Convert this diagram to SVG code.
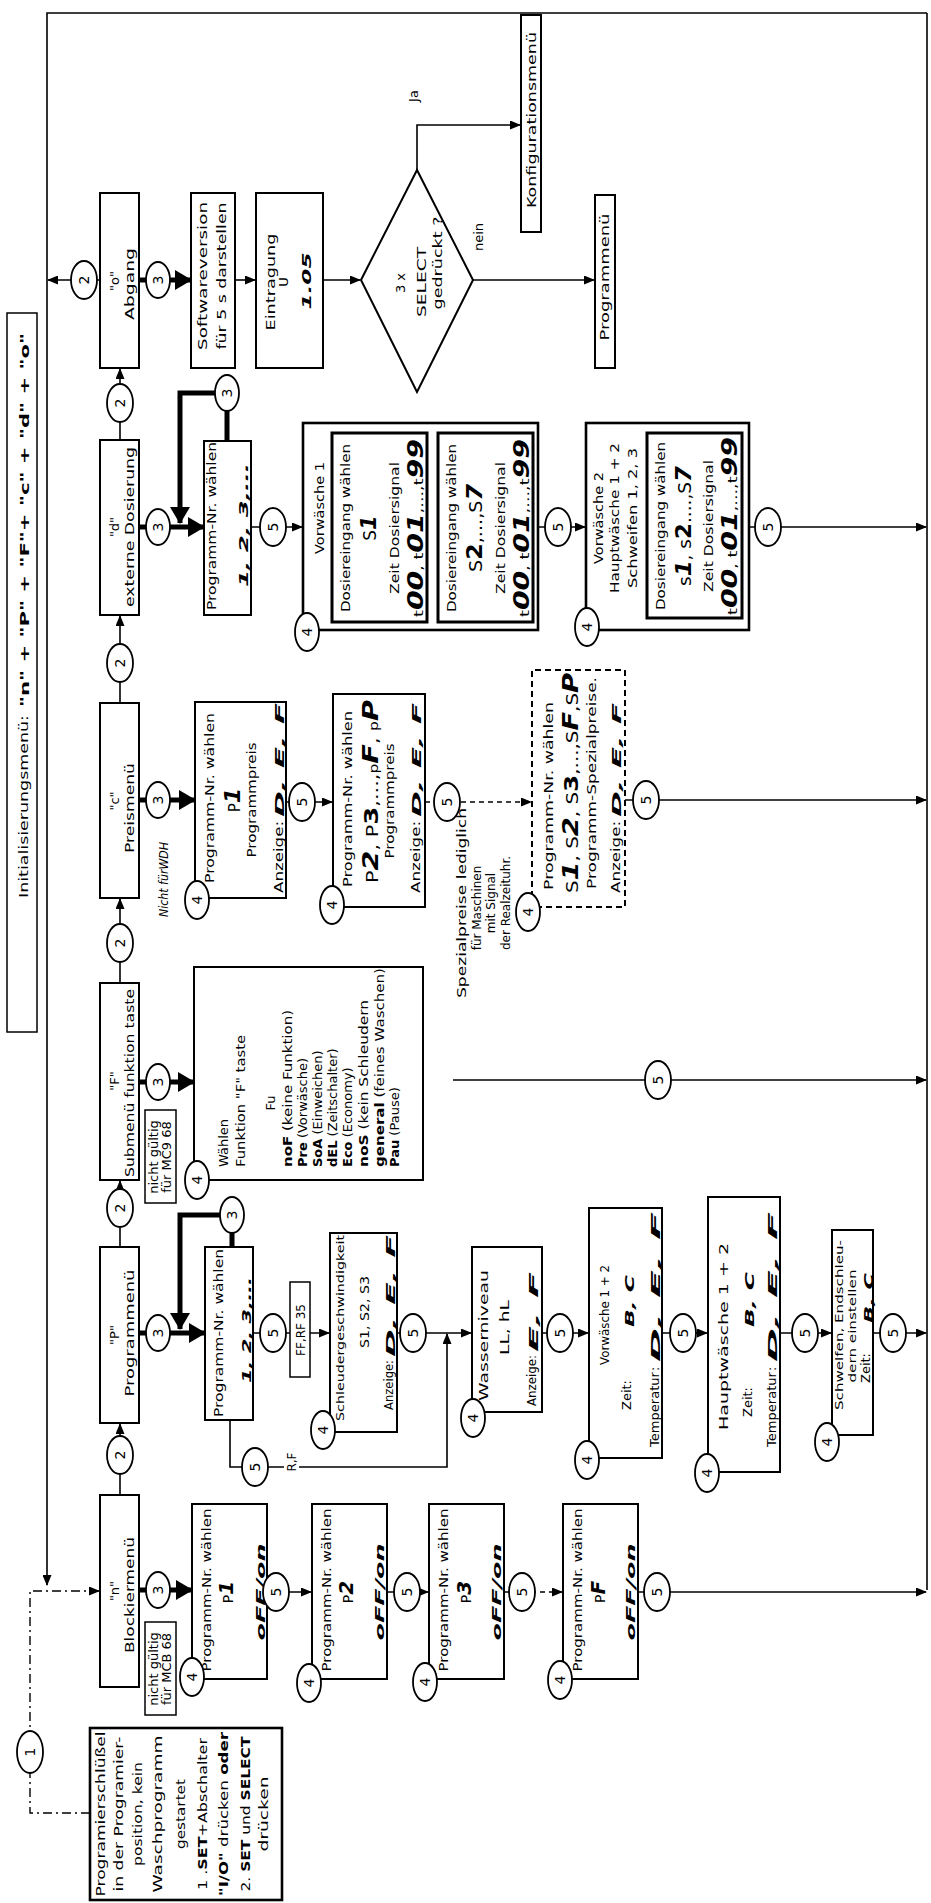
<svg xmlns="http://www.w3.org/2000/svg" width="931" height="1903" viewBox="0 0 931 1903">
<style>
.bx{fill:#fff;stroke:#000;stroke-width:2}
.bk{fill:#fff;stroke:#000;stroke-width:2.6}
.dsh{fill:#fff;stroke:#000;stroke-width:2;stroke-dasharray:6,4}
.el{fill:#fff;stroke:#000;stroke-width:1.8}
.ln{fill:none;stroke:#000;stroke-width:1.6}
.dl{fill:none;stroke:#000;stroke-width:1.6;stroke-dasharray:5,4}
.dd{fill:none;stroke:#000;stroke-width:1.4;stroke-dasharray:9,4,2,4}
.tk{fill:none;stroke:#000;stroke-width:5}
text{font-family:"DejaVu Sans","Liberation Sans",Arial,sans-serif;fill:#000;font-size:13px}
.s{font-size:11px}
.s12{font-size:12px}
.n{font-size:14px;text-anchor:middle}
.c{text-anchor:middle}
.bi{font-weight:bold;font-style:italic}
.b{font-weight:bold}
</style>
<defs>
<marker id="ar" markerUnits="userSpaceOnUse" markerWidth="11" markerHeight="9" refX="10" refY="4.5" orient="auto"><path d="M0,0 L11,4.5 L0,9 z"/></marker>
<marker id="at" markerUnits="userSpaceOnUse" markerWidth="17" markerHeight="20" refX="16" refY="10" orient="auto"><path d="M0,0 L17,10 L0,20 z"/></marker>
</defs>
<g transform="translate(0,1903) rotate(-90)">

<g id="connectors">
<path class="ln" d="M1890,927 L1890,47 L318,47" marker-end="url(#ar)"/>
<path class="ln" d="M1890,927 L313,927"/>
<path class="dd" d="M90,90 L90,30 L312,30 L312,99" marker-end="url(#ar)"/>
<path class="ln" d="M408,120 L479,120" marker-end="url(#ar)"/>
<path class="ln" d="M656,120 L722,120" marker-end="url(#ar)"/>
<path class="ln" d="M920,120 L1004,120" marker-end="url(#ar)"/>
<path class="ln" d="M1200,120 L1287,120" marker-end="url(#ar)"/>
<path class="ln" d="M1463,120 L1534,120" marker-end="url(#ar)"/>
<path class="ln" d="M1623,100 L1623,48" marker-end="url(#ar)"/>
<path class="tk" d="M313,139 L313,192" marker-end="url(#at)"/>
<path class="tk" d="M570,139 L570,205" marker-end="url(#at)"/>
<path class="tk" d="M821,139 L821,194" marker-end="url(#at)"/>
<path class="tk" d="M1103,139 L1103,195" marker-end="url(#at)"/>
<path class="tk" d="M1376,139 L1376,204" marker-end="url(#at)"/>
<path class="tk" d="M1623,139 L1623,191" marker-end="url(#at)"/>
<path class="tk" d="M656,232 L688,232 L688,180 L574,180" marker-end="url(#at)"/>
<path class="tk" d="M1462,227 L1510,227 L1510,180 L1380,180" marker-end="url(#at)"/>
<path class="ln" d="M1623,235 L1623,255" marker-end="url(#ar)"/>
<path class="ln" d="M1623,323 L1623,360" marker-end="url(#ar)"/>
<path class="ln" d="M1733,417 L1778,417 L1778,520" marker-end="url(#ar)"/>
<path class="ln" d="M1623,473 L1623,594" marker-end="url(#ar)"/>
<path class="ln" d="M1376,251 L1376,302" marker-end="url(#ar)"/>
<path class="ln" d="M1376,538 L1376,585" marker-end="url(#ar)"/>
<path class="ln" d="M1376,749 L1376,926" marker-end="url(#ar)"/>
<path class="ln" d="M1101,286 L1101,332" marker-end="url(#ar)"/>
<path class="dl" d="M1101,425 L1101,531" marker-end="url(#ar)"/>
<path class="ln" d="M1103,625 L1103,926" marker-end="url(#ar)"/>
<path class="ln" d="M823,453 L823,926" marker-end="url(#ar)"/>
<path class="ln" d="M570,253 L570,329" marker-end="url(#ar)"/>
<path class="ln" d="M570,397 L570,471" marker-end="url(#ar)"/>
<path class="ln" d="M570,542 L570,588" marker-end="url(#ar)"/>
<path class="ln" d="M570,662 L570,707" marker-end="url(#ar)"/>
<path class="ln" d="M570,780 L570,831" marker-end="url(#ar)"/>
<path class="ln" d="M570,873 L570,926" marker-end="url(#ar)"/>
<path class="ln" d="M483,230 L436,230 L436,447 L569,447" marker-end="url(#ar)"/>
<path class="ln" d="M311,267 L311,311" marker-end="url(#ar)"/>
<path class="ln" d="M311,387 L311,428" marker-end="url(#ar)"/>
<path class="dl" d="M311,504 L311,562" marker-end="url(#ar)"/>
<path class="ln" d="M311,638 L311,926" marker-end="url(#ar)"/>
<rect x="430" y="284" width="23" height="15" fill="#fff"/>
<text class="c s12" x="441" y="296">R,F</text>
<text class="c" x="1807" y="418">Ja</text>
<text class="c" x="1666" y="483">nein</text>
</g>

<g id="title">
<rect x="871" y="7" width="719" height="30" fill="#fff" stroke="#000" stroke-width="1.5"/>
<text x="1005" y="28" font-size="16" textLength="183" lengthAdjust="spacingAndGlyphs">Initialisierungsmenü:</text>
<text x="1196" y="29" class="b" font-size="19" textLength="374" lengthAdjust="spacingAndGlyphs">"n" + "P" + "F"+ "c" + "d" + "o"</text>
</g>

<g id="start">
<rect class="bk" x="3" y="90" width="172" height="192"/>
<text class="c" font-size="14" x="89" y="105" textLength="165" lengthAdjust="spacingAndGlyphs">Programierschlüßel</text>
<text class="c" font-size="14" x="89" y="123" textLength="155" lengthAdjust="spacingAndGlyphs">in der Programier-</text>
<text class="c" font-size="14" x="89" y="142" textLength="104" lengthAdjust="spacingAndGlyphs">position, kein</text>
<text class="c" font-size="14" x="89" y="162" textLength="157" lengthAdjust="spacingAndGlyphs">Waschprogramm</text>
<text class="c" font-size="14" x="89" y="185" textLength="70" lengthAdjust="spacingAndGlyphs">gestartet</text>
<text class="c" font-size="14" x="89" y="207" textLength="152" lengthAdjust="spacingAndGlyphs">1 .<tspan class="b">SET</tspan>+Abschalter</text>
<text class="c" font-size="14" x="89" y="228" textLength="164" lengthAdjust="spacingAndGlyphs"><tspan class="b">"I/O"</tspan> drücken <tspan class="b">oder</tspan></text>
<text class="c" font-size="14" x="89" y="250" textLength="155" lengthAdjust="spacingAndGlyphs">2. <tspan class="b">SET</tspan> und <tspan class="b">SELECT</tspan></text>
<text class="c" font-size="14" x="89" y="268" textLength="75" lengthAdjust="spacingAndGlyphs">drücken</text>
</g>

<g id="menu-n">
<rect class="bx" x="216" y="100" width="192" height="39"/>
<text class="c" x="312" y="119">"n"</text>
<text class="c" x="308" y="134" textLength="116" lengthAdjust="spacingAndGlyphs">Blockiermenü</text>
</g>
<g id="note-n">
<rect class="bx" x="188" y="145" width="93" height="31" style="stroke-width:1.5"/>
<text class="c" font-size="10" x="234" y="158">nicht gültig</text>
<text class="c" font-size="10" x="234" y="171">für MCB 68</text>
</g>
<g id="n-p1">
<rect class="bx" x="224" y="192" width="175" height="75"/>
<text class="c s12" x="313" y="211" textLength="163" lengthAdjust="spacingAndGlyphs">Programm-Nr. wählen</text>
<text class="c" x="311" y="233"><tspan font-size="14">P</tspan><tspan class="bi" font-size="20">1</tspan></text>
<text class="c bi" font-size="24" x="311" y="265" textLength="97" lengthAdjust="spacingAndGlyphs">oFF/on</text>
</g>
<g id="n-p2">
<rect class="bx" x="224" y="312" width="175" height="75"/>
<text class="c s12" x="313" y="331" textLength="163" lengthAdjust="spacingAndGlyphs">Programm-Nr. wählen</text>
<text class="c" x="311" y="353"><tspan font-size="14">P</tspan><tspan class="bi" font-size="20">2</tspan></text>
<text class="c bi" font-size="24" x="311" y="384" textLength="97" lengthAdjust="spacingAndGlyphs">oFF/on</text>
</g>
<g id="n-p3">
<rect class="bx" x="224" y="429" width="175" height="75"/>
<text class="c s12" x="313" y="448" textLength="163" lengthAdjust="spacingAndGlyphs">Programm-Nr. wählen</text>
<text class="c" x="311" y="471"><tspan font-size="14">P</tspan><tspan class="bi" font-size="20">3</tspan></text>
<text class="c bi" font-size="24" x="311" y="501" textLength="97" lengthAdjust="spacingAndGlyphs">oFF/on</text>
</g>
<g id="n-pf">
<rect class="bx" x="224" y="563" width="175" height="75"/>
<text class="c s12" x="313" y="582" textLength="163" lengthAdjust="spacingAndGlyphs">Programm-Nr. wählen</text>
<text class="c" x="311" y="605"><tspan font-size="14">P</tspan><tspan class="bi" font-size="20">F</tspan></text>
<text class="c bi" font-size="24" x="311" y="635" textLength="97" lengthAdjust="spacingAndGlyphs">oFF/on</text>
</g>

<g id="menu-p">
<rect class="bx" x="480" y="100" width="176" height="39"/>
<text class="c" x="568" y="119">"P"</text>
<text class="c" x="570" y="134" textLength="127" lengthAdjust="spacingAndGlyphs">Programmenü</text>
</g>
<g id="p-prog">
<rect class="bx" x="483" y="205" width="173" height="48"/>
<text class="c s12" x="570" y="223" textLength="168" lengthAdjust="spacingAndGlyphs">Programm-Nr. wählen</text>
<text class="bi" font-size="24" x="520" y="251" textLength="106" lengthAdjust="spacingAndGlyphs">1, 2, 3,...</text>
</g>
<g id="p-ffrf">
<rect class="bx" x="526" y="290" width="95" height="20" style="stroke-width:1.5"/>
<text class="c s12" x="573" y="305">FF,RF 35</text>
</g>
<g id="p-schleuder">
<rect class="bx" x="471" y="330" width="199" height="67"/>
<text class="s" x="482" y="344" textLength="186" lengthAdjust="spacingAndGlyphs">Schleudergeschwindigkeit</text>
<text font-size="17" x="555" y="369" textLength="72" lengthAdjust="spacingAndGlyphs">S1, S2, S3</text>
<text x="493" y="393" textLength="50" lengthAdjust="spacingAndGlyphs">Anzeige:</text>
<text class="bi" font-size="26" x="546" y="395" textLength="122" lengthAdjust="spacingAndGlyphs">D, E, F</text>
</g>
<g id="p-wasser">
<rect class="bx" x="491" y="472" width="165" height="70"/>
<text class="s12" x="502" y="488" textLength="131" lengthAdjust="spacingAndGlyphs">Wasserniveau</text>
<text font-size="17" x="548" y="509" textLength="55" lengthAdjust="spacingAndGlyphs">LL, hL</text>
<text x="497" y="536" textLength="51" lengthAdjust="spacingAndGlyphs">Anzeige:</text>
<text class="bi" font-size="26" x="551" y="538" textLength="80" lengthAdjust="spacingAndGlyphs">E, F</text>
</g>
<g id="p-vorw">
<rect class="bx" x="445" y="589" width="250" height="73"/>
<text class="c" x="588" y="609" textLength="100" lengthAdjust="spacingAndGlyphs">Vorwäsche 1 + 2</text>
<text x="493" y="631">Zeit:</text>
<text class="bi" font-size="24" x="576" y="634" textLength="52" lengthAdjust="spacingAndGlyphs">B, C</text>
<text x="456" y="659" textLength="75" lengthAdjust="spacingAndGlyphs">Temperatur</text>
<text x="532" y="659">:</text>
<text class="bi" font-size="26" x="541" y="660" textLength="150" lengthAdjust="spacingAndGlyphs">D, E, F</text>
</g>
<g id="p-haupt">
<rect class="bx" x="431" y="708" width="275" height="72"/>
<text x="473" y="728" textLength="187" lengthAdjust="spacingAndGlyphs">Hauptwäsche 1 + 2</text>
<text x="486" y="752">Zeit:</text>
<text class="bi" font-size="24" x="576" y="754" textLength="55" lengthAdjust="spacingAndGlyphs">B, C</text>
<text x="456" y="776" textLength="75" lengthAdjust="spacingAndGlyphs">Temperatur</text>
<text x="532" y="776">:</text>
<text class="bi" font-size="26" x="541" y="777" textLength="150" lengthAdjust="spacingAndGlyphs">D, E, F</text>
</g>
<g id="p-schwelfen">
<rect class="bx" x="468" y="832" width="205" height="41"/>
<text class="c s" x="578" y="843" textLength="170" lengthAdjust="spacingAndGlyphs">Schwelfen, Endschleu-</text>
<text class="c s" x="577" y="856" textLength="113" lengthAdjust="spacingAndGlyphs">dern einstellen</text>
<text class="s12" x="520" y="870" textLength="30" lengthAdjust="spacingAndGlyphs">Zeit:</text>
<text class="bi" font-size="22" x="580" y="873" textLength="50" lengthAdjust="spacingAndGlyphs">B, C</text>
</g>

<g id="menu-f">
<rect class="bx" x="723" y="100" width="197" height="39"/>
<text class="c" x="822" y="119">"F"</text>
<text class="c" x="820" y="134" textLength="188" lengthAdjust="spacingAndGlyphs">Submenü funktion taste</text>
</g>
<g id="note-f">
<rect class="bx" x="700" y="145" width="93" height="31" style="stroke-width:1.5"/>
<text class="c" font-size="10" x="746" y="158">nicht gültig</text>
<text class="c" font-size="10" x="746" y="171">für MC9 68</text>
</g>
<g id="f-waehlen">
<rect class="bx" x="723" y="194" width="213" height="229"/>
<text x="736" y="228">Wählen</text>
<text x="736" y="245" textLength="132" lengthAdjust="spacingAndGlyphs">Funktion "F" taste</text>
<text class="c" x="800" y="275">Fu</text>
<text x="736" y="292" textLength="157" lengthAdjust="spacingAndGlyphs"><tspan class="b">noF</tspan> (keine Funktion)</text>
<text x="736" y="307"><tspan class="b">Pre</tspan> (Vorwäsche)</text>
<text x="736" y="322"><tspan class="b">SoA</tspan> (Einweichen)</text>
<text x="736" y="337"><tspan class="b">dEL</tspan> (Zeitschalter)</text>
<text x="736" y="352"><tspan class="b">Eco</tspan> (Economy)</text>
<text x="736" y="368" textLength="167" lengthAdjust="spacingAndGlyphs"><tspan class="b">noS</tspan> (kein Schleudern</text>
<text x="736" y="384" textLength="199" lengthAdjust="spacingAndGlyphs"><tspan class="b">general</tspan> (feines Waschen)</text>
<text x="736" y="399"><tspan class="b">Pau</tspan> (Pause)</text>
</g>

<g id="menu-c">
<rect class="bx" x="1005" y="100" width="195" height="39"/>
<text class="c" x="1102" y="119">"c"</text>
<text class="c" x="1095" y="134" textLength="90" lengthAdjust="spacingAndGlyphs">Preismenü</text>
</g>
<g id="c-label">
<text font-style="italic" x="986" y="168" textLength="75" lengthAdjust="spacingAndGlyphs">Nicht fürWDH</text>
</g>
<g id="c-p1">
<rect class="bx" x="1005" y="195" width="196" height="91"/>
<text class="c s12" x="1105" y="214" textLength="170" lengthAdjust="spacingAndGlyphs">Programm-Nr. wählen</text>
<text class="c" x="1103" y="240"><tspan font-size="15">P</tspan><tspan class="bi" font-size="22">1</tspan></text>
<text class="c" x="1103" y="256" textLength="115" lengthAdjust="spacingAndGlyphs">Programmpreis</text>
<text x="1010" y="283" textLength="72" lengthAdjust="spacingAndGlyphs">Anzeige:</text>
<text class="bi" font-size="26" x="1086" y="284" textLength="114" lengthAdjust="spacingAndGlyphs">D, E, F</text>
</g>
<g id="c-p2">
<rect class="bx" x="996" y="333" width="213" height="92"/>
<text class="c s12" x="1104" y="352" textLength="176" lengthAdjust="spacingAndGlyphs">Programm-Nr. wählen</text>
<text x="1020" y="378" textLength="183" lengthAdjust="spacingAndGlyphs"><tspan font-size="16">P</tspan><tspan class="bi" font-size="22">2</tspan><tspan font-size="16">, P</tspan><tspan class="b" font-size="20">3</tspan><tspan font-size="16">,...,</tspan><tspan font-size="12">p</tspan><tspan class="bi" font-size="22">F</tspan><tspan font-size="16">, </tspan><tspan font-size="12">p</tspan><tspan class="bi" font-size="22">P</tspan></text>
<text class="c" x="1102" y="394" textLength="115" lengthAdjust="spacingAndGlyphs">Programmpreis</text>
<text x="1010" y="420" textLength="72" lengthAdjust="spacingAndGlyphs">Anzeige:</text>
<text class="bi" font-size="26" x="1086" y="421" textLength="114" lengthAdjust="spacingAndGlyphs">D, E, F</text>
</g>
<g id="c-note">
<text class="c s12" x="1000" y="466" textLength="190" lengthAdjust="spacingAndGlyphs">Spezialpreise lediglich</text>
<text class="c s12" x="995" y="481">für Maschinen</text>
<text class="c s12" x="1000" y="495">mit Signal</text>
<text class="c s12" x="1000" y="510">der Realzeituhr.</text>
</g>
<g id="c-special">
<rect class="dsh" x="996" y="532" width="237" height="93"/>
<text class="c s12" x="1107" y="553" textLength="188" lengthAdjust="spacingAndGlyphs">Programm-Nr. wählen</text>
<text x="1010" y="578" textLength="220" lengthAdjust="spacingAndGlyphs"><tspan font-size="16">S</tspan><tspan class="bi" font-size="22">1</tspan><tspan font-size="16">, S</tspan><tspan class="bi" font-size="22">2</tspan><tspan font-size="16">, S</tspan><tspan class="b" font-size="20">3</tspan><tspan font-size="16">,...,S</tspan><tspan class="bi" font-size="22">F</tspan><tspan font-size="16">,S</tspan><tspan class="bi" font-size="22">P</tspan></text>
<text class="c s12" x="1120" y="596" textLength="212" lengthAdjust="spacingAndGlyphs">Programm-Spezialpreise.</text>
<text x="1010" y="620" textLength="72" lengthAdjust="spacingAndGlyphs">Anzeige:</text>
<text class="bi" font-size="26" x="1086" y="621" textLength="114" lengthAdjust="spacingAndGlyphs">D, E, F</text>
</g>

<g id="menu-d">
<rect class="bx" x="1288" y="100" width="175" height="39"/>
<text class="c" x="1376" y="119">"d"</text>
<text class="c" x="1376" y="134" textLength="160" lengthAdjust="spacingAndGlyphs">externe Dosierung</text>
</g>
<g id="d-prog">
<rect class="bx" x="1288" y="204" width="174" height="47"/>
<text class="c s12" x="1377" y="216" textLength="168" lengthAdjust="spacingAndGlyphs">Programm-Nr. wählen</text>
<text class="bi" font-size="24" x="1316" y="248" textLength="124" lengthAdjust="spacingAndGlyphs">1, 2, 3,...</text>
</g>
<g id="d-vorw1">
<rect class="bk" x="1273" y="303" width="207" height="235"/>
<text class="c" x="1395" y="324" textLength="92" lengthAdjust="spacingAndGlyphs">Vorwäsche 1</text>
<rect x="1281" y="332" width="189" height="95" fill="#fff" stroke="#000" stroke-width="3"/>
<text class="c s12" x="1375" y="350" textLength="168" lengthAdjust="spacingAndGlyphs">Dosiereingang wählen</text>
<text class="c" x="1375" y="376"><tspan font-size="17">S</tspan><tspan class="bi" font-size="21">1</tspan></text>
<text class="c" x="1375" y="399" textLength="132" lengthAdjust="spacingAndGlyphs">Zeit Dosiersignal</text>
<text class="c" x="1375" y="423" textLength="178" lengthAdjust="spacingAndGlyphs">t<tspan class="bi" font-size="21">00</tspan>, t<tspan class="bi" font-size="21">01</tspan>,...,t<tspan class="bi" font-size="21">99</tspan></text>
<rect x="1281" y="438" width="189" height="95" fill="#fff" stroke="#000" stroke-width="3"/>
<text class="c s12" x="1375" y="456" textLength="168" lengthAdjust="spacingAndGlyphs">Dosiereingang wählen</text>
<text class="c" x="1375" y="482" textLength="88" lengthAdjust="spacingAndGlyphs"><tspan font-size="17">S</tspan><tspan class="b" font-size="21">2</tspan><tspan font-size="17">,...,S</tspan><tspan class="bi" font-size="21">7</tspan></text>
<text class="c" x="1375" y="505" textLength="132" lengthAdjust="spacingAndGlyphs">Zeit Dosiersignal</text>
<text class="c" x="1375" y="529" textLength="178" lengthAdjust="spacingAndGlyphs">t<tspan class="bi" font-size="21">00</tspan>, t<tspan class="bi" font-size="21">01</tspan>,...,t<tspan class="bi" font-size="21">99</tspan></text>
</g>
<g id="d-vorw2">
<rect class="bk" x="1273" y="586" width="207" height="163"/>
<text class="c" x="1385" y="603" textLength="92" lengthAdjust="spacingAndGlyphs">Vorwäsche 2</text>
<text class="c" x="1385" y="619" textLength="150" lengthAdjust="spacingAndGlyphs">Hauptwäsche 1 + 2</text>
<text class="c" x="1385" y="637" textLength="140" lengthAdjust="spacingAndGlyphs">Schweifen 1, 2, 3</text>
<rect x="1285" y="647" width="185" height="95" fill="#fff" stroke="#000" stroke-width="3"/>
<text class="c s12" x="1377" y="665" textLength="168" lengthAdjust="spacingAndGlyphs">Dosiereingang wählen</text>
<text class="c" x="1377" y="691" textLength="120" lengthAdjust="spacingAndGlyphs"><tspan font-size="17">s</tspan><tspan class="bi" font-size="21">1</tspan><tspan font-size="17">, s</tspan><tspan class="b" font-size="21">2</tspan><tspan font-size="17">....,S</tspan><tspan class="bi" font-size="21">7</tspan></text>
<text class="c" x="1377" y="713" textLength="132" lengthAdjust="spacingAndGlyphs">Zeit Dosiersignal</text>
<text class="c" x="1377" y="737" textLength="178" lengthAdjust="spacingAndGlyphs">t<tspan class="bi" font-size="21">00</tspan>, t<tspan class="bi" font-size="21">01</tspan>,...,t<tspan class="bi" font-size="21">99</tspan></text>
</g>

<g id="menu-o">
<rect class="bx" x="1535" y="100" width="175" height="39"/>
<text class="c" x="1622" y="119">"o"</text>
<text class="c" x="1619" y="134" textLength="72" lengthAdjust="spacingAndGlyphs">Abgang</text>
</g>
<g id="o-soft">
<rect class="bx" x="1535" y="191" width="175" height="44"/>
<text class="c" x="1627" y="207" textLength="148" lengthAdjust="spacingAndGlyphs">Softwareversion</text>
<text class="c" x="1627" y="226" textLength="147" lengthAdjust="spacingAndGlyphs">für 5 s  darstellen</text>
</g>
<g id="o-eintrag">
<rect class="bx" x="1535" y="256" width="175" height="67"/>
<text class="c" x="1621" y="275" textLength="97" lengthAdjust="spacingAndGlyphs">Eintragung</text>
<text class="c" x="1621" y="288">U</text>
<text class="c bi" font-size="26" x="1622" y="311" textLength="57" lengthAdjust="spacingAndGlyphs">1.05</text>
</g>
<g id="o-decision">
<polygon points="1623,361 1733,417 1623,473 1511,417" fill="#fff" stroke="#000" stroke-width="2"/>
<text class="c" x="1620" y="405">3 x</text>
<text class="c" x="1621" y="426" textLength="70" lengthAdjust="spacingAndGlyphs">SELECT</text>
<text class="c" x="1640" y="442" textLength="93" lengthAdjust="spacingAndGlyphs">gedrückt ?</text>
</g>
<g id="o-konfig">
<rect class="bx" x="1671" y="521" width="217" height="20"/>
<text class="c" x="1783" y="536" textLength="176" lengthAdjust="spacingAndGlyphs">Konfigurationsmenü</text>
</g>
<g id="o-progmenu">
<rect class="bx" x="1535" y="595" width="173" height="20"/>
<text class="c" x="1626" y="609" textLength="127" lengthAdjust="spacingAndGlyphs">Programmenü</text>
</g>

<g id="circles">
<ellipse class="el" cx="151" cy="30" rx="21" ry="13"/><text class="n" x="151" y="35">1</text>
<ellipse class="el" cx="448" cy="120" rx="19" ry="13"/><text class="n" x="448" y="125">2</text>
<ellipse class="el" cx="695" cy="120" rx="19" ry="13"/><text class="n" x="695" y="125">2</text>
<ellipse class="el" cx="960" cy="120" rx="19" ry="13"/><text class="n" x="960" y="125">2</text>
<ellipse class="el" cx="1240" cy="120" rx="19" ry="13"/><text class="n" x="1240" y="125">2</text>
<ellipse class="el" cx="1500" cy="120" rx="19" ry="13"/><text class="n" x="1500" y="125">2</text>
<ellipse class="el" cx="1623" cy="84" rx="19" ry="13"/><text class="n" x="1623" y="89">2</text>
<ellipse class="el" cx="313" cy="158" rx="18" ry="12"/><text class="n" x="313" y="163">3</text>
<ellipse class="el" cx="570" cy="158" rx="18" ry="12"/><text class="n" x="570" y="163">3</text>
<ellipse class="el" cx="821" cy="158" rx="18" ry="12"/><text class="n" x="821" y="163">3</text>
<ellipse class="el" cx="1103" cy="158" rx="18" ry="12"/><text class="n" x="1103" y="163">3</text>
<ellipse class="el" cx="1376" cy="158" rx="18" ry="12"/><text class="n" x="1376" y="163">3</text>
<ellipse class="el" cx="1623" cy="158" rx="18" ry="12"/><text class="n" x="1623" y="163">3</text>
<ellipse class="el" cx="688" cy="232" rx="18" ry="12"/><text class="n" x="688" y="237">3</text>
<ellipse class="el" cx="1510" cy="227" rx="18" ry="12"/><text class="n" x="1510" y="232">3</text>
<ellipse class="el" cx="226" cy="192" rx="19" ry="12"/><text class="n" x="226" y="197">4</text>
<ellipse class="el" cx="220" cy="309" rx="19" ry="12"/><text class="n" x="220" y="314">4</text>
<ellipse class="el" cx="221" cy="425" rx="19" ry="12"/><text class="n" x="221" y="430">4</text>
<ellipse class="el" cx="223" cy="560" rx="19" ry="12"/><text class="n" x="223" y="565">4</text>
<ellipse class="el" cx="1003" cy="197" rx="19" ry="12"/><text class="n" x="1003" y="202">4</text>
<ellipse class="el" cx="998" cy="332" rx="19" ry="12"/><text class="n" x="998" y="337">4</text>
<ellipse class="el" cx="991" cy="528" rx="19" ry="12"/><text class="n" x="991" y="533">4</text>
<ellipse class="el" cx="723" cy="197" rx="19" ry="12"/><text class="n" x="723" y="202">4</text>
<ellipse class="el" cx="473" cy="323" rx="19" ry="12"/><text class="n" x="473" y="328">4</text>
<ellipse class="el" cx="485" cy="473" rx="19" ry="12"/><text class="n" x="485" y="478">4</text>
<ellipse class="el" cx="443" cy="587" rx="19" ry="12"/><text class="n" x="443" y="592">4</text>
<ellipse class="el" cx="430" cy="707" rx="19" ry="12"/><text class="n" x="430" y="712">4</text>
<ellipse class="el" cx="461" cy="827" rx="19" ry="12"/><text class="n" x="461" y="832">4</text>
<ellipse class="el" cx="1271" cy="307" rx="19" ry="12"/><text class="n" x="1271" y="312">4</text>
<ellipse class="el" cx="1276" cy="587" rx="19" ry="12"/><text class="n" x="1276" y="592">4</text>
<ellipse class="el" cx="311" cy="276" rx="19" ry="13"/><text class="n" x="311" y="281">5</text>
<ellipse class="el" cx="311" cy="407" rx="19" ry="13"/><text class="n" x="311" y="412">5</text>
<ellipse class="el" cx="311" cy="522" rx="19" ry="13"/><text class="n" x="311" y="527">5</text>
<ellipse class="el" cx="311" cy="657" rx="19" ry="13"/><text class="n" x="311" y="662">5</text>
<ellipse class="el" cx="436" cy="255" rx="19" ry="13"/><text class="n" x="436" y="260">5</text>
<ellipse class="el" cx="570" cy="273" rx="19" ry="13"/><text class="n" x="570" y="278">5</text>
<ellipse class="el" cx="570" cy="413" rx="19" ry="13"/><text class="n" x="570" y="418">5</text>
<ellipse class="el" cx="570" cy="560" rx="19" ry="13"/><text class="n" x="570" y="565">5</text>
<ellipse class="el" cx="570" cy="683" rx="19" ry="13"/><text class="n" x="570" y="688">5</text>
<ellipse class="el" cx="570" cy="805" rx="19" ry="13"/><text class="n" x="570" y="810">5</text>
<ellipse class="el" cx="570" cy="893" rx="19" ry="13"/><text class="n" x="570" y="898">5</text>
<ellipse class="el" cx="823" cy="658" rx="19" ry="13"/><text class="n" x="823" y="663">5</text>
<ellipse class="el" cx="1101" cy="302" rx="19" ry="13"/><text class="n" x="1101" y="307">5</text>
<ellipse class="el" cx="1101" cy="447" rx="19" ry="13"/><text class="n" x="1101" y="452">5</text>
<ellipse class="el" cx="1103" cy="646" rx="19" ry="13"/><text class="n" x="1103" y="651">5</text>
<ellipse class="el" cx="1376" cy="273" rx="19" ry="13"/><text class="n" x="1376" y="278">5</text>
<ellipse class="el" cx="1376" cy="558" rx="19" ry="13"/><text class="n" x="1376" y="563">5</text>
<ellipse class="el" cx="1376" cy="768" rx="19" ry="13"/><text class="n" x="1376" y="773">5</text>
</g>

</g>
</svg>
